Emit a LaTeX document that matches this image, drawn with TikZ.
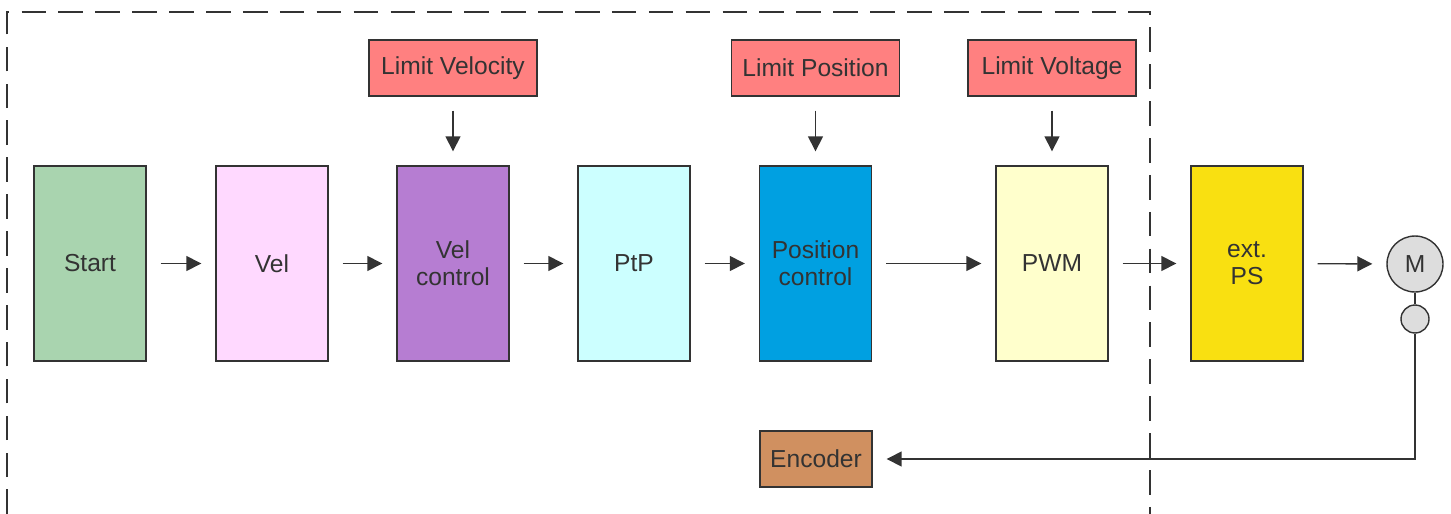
\documentclass[tikz,border=0pt]{standalone}
\usepackage{fontspec}
\setmainfont{Liberation Sans}
\usetikzlibrary{arrows.meta}

\definecolor{linegray}{HTML}{333333}
\definecolor{startgreen}{HTML}{A9D4AF}
\definecolor{velpink}{HTML}{FFD9FF}
\definecolor{ctrlpurple}{HTML}{B67DD2}
\definecolor{ptpcyan}{HTML}{CCFFFF}
\definecolor{posblue}{HTML}{00A0E1}
\definecolor{pwmyellow}{HTML}{FFFFCC}
\definecolor{psyellow}{HTML}{F9E011}
\definecolor{limitred}{HTML}{FF8080}
\definecolor{encbrown}{HTML}{D09060}
\definecolor{motorgray}{HTML}{DDDDDD}

\begin{document}
\begin{tikzpicture}[x=0.02cm,y=-0.02cm,
    font=\fontsize{14}{15.5}\selectfont, text=linegray,
    block/.style={rectangle,draw=linegray,line width=0.8pt,minimum width=2.24cm,minimum height=3.9cm,inner sep=0pt,align=center},
    limit/.style={rectangle,draw=linegray,line width=0.8pt,fill=limitred,minimum width=3.36cm,minimum height=1.12cm,inner sep=0pt},
    flow/.style={draw=linegray,line width=0.8pt,-{Triangle[length=0.3cm,width=0.3cm]},shorten <=0.28cm,shorten >=0.28cm}]
\useasboundingbox (0,0) rectangle (1451,514);
\draw[linegray,line width=0.7pt,dash pattern=on 14pt off 7pt] (7,514) -- (7,12) -- (1150,12) -- (1150,514);
\node[block,fill=startgreen] (start) at (90,263.5) {Start};
\node[block,fill=velpink] (vel) at (272,263.5) {Vel};
\node[block,fill=ctrlpurple] (velctrl) at (453,263.5) {Vel\\control};
\node[block,fill=ptpcyan] (ptp) at (634,263.5) {PtP};
\node[block,fill=posblue] (posctrl) at (815.5,263.5) {Position\\control};
\node[block,fill=pwmyellow] (pwm) at (1052,263.5) {PWM};
\node[block,fill=psyellow] (extps) at (1247,263.5) {ext.\\PS};
\node[circle,draw=linegray,line width=0.8pt,fill=motorgray,minimum size=1.12cm,inner sep=0pt] (motor) at (1415,264) {M};
\node[circle,draw=linegray,line width=0.8pt,fill=motorgray,minimum size=0.56cm,inner sep=0pt] (sensor) at (1415,319) {};
\node[limit] (limvel) at (453,68) {Limit Velocity};
\node[limit] (limpos) at (815.5,68) {Limit Position};
\node[limit] (limvolt) at (1052,68) {Limit Voltage};
\node[rectangle,draw=linegray,line width=0.8pt,fill=encbrown,minimum width=2.24cm,minimum height=1.12cm,inner sep=0pt] (encoder) at (816,459) {Encoder};
\draw[flow] (start) -- (vel);
\draw[flow] (vel) -- (velctrl);
\draw[flow] (velctrl) -- (ptp);
\draw[flow] (ptp) -- (posctrl);
\draw[flow] (posctrl) -- (pwm);
\draw[flow] (pwm) -- (extps);
\draw[flow] (extps) -- (motor);
\draw[flow] (limvel) -- (velctrl);
\draw[flow] (limpos) -- (posctrl);
\draw[flow] (limvolt) -- (pwm);
\draw[linegray,line width=0.8pt] (motor) -- (sensor);
\draw[flow,shorten <=0pt] (sensor) |- (encoder);
\end{tikzpicture}
\end{document}
